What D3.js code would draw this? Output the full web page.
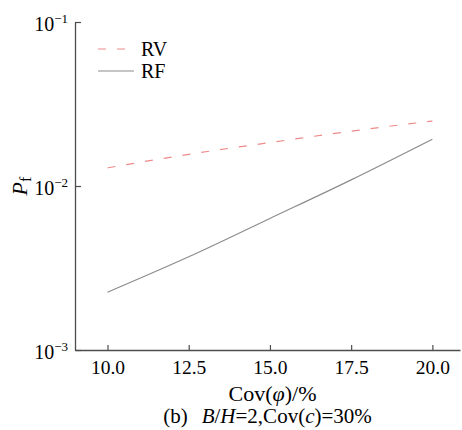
<!DOCTYPE html>
<html>
	<script src="https://d3js.org/d3.v7.min.js"></script>
	<head>
		<style>
			body
			{
				margin:0;
				background-color:white;
			}
			text
			{
				font-family:"Liberation Serif", "DejaVu Serif", serif;
				fill:black;
			}
		</style>
	</head>
	<body>
		<svg id="chart"></svg>
	</body>
	<script>
		// values
		let covPhi = [10.0, 12.5, 15.0, 17.5, 20.0];
		let pfRV = [0.0129, 0.0156, 0.0184, 0.0216, 0.0249];
		let pfRF = [0.00225, 0.0037, 0.00634, 0.0109, 0.0193];
		let xTicks = [10.0, 12.5, 15.0, 17.5, 20.0];
		let yTicks = [1e-3, 1e-2, 1e-1];
		let seriesNames = ["RV", "RF"];

		let width = 462;
		let height = 430;
		let margin = {
			top: 22,
			bottom: 80,
			left: 75,
			right: 2
		};
		let axisColor = "#4d4d4d";
		let rvColor = "#ee8a8a";
		let rfColor = "#8c8c8c";

		let svg = d3.select("#chart")
					.attr("width", width)
					.attr("height", height);

		// scales
		let xScale = d3.scaleLinear()
					.domain([9.0, 20.85])
					.range([margin.left, width - margin.right]);
		let yScale = d3.scaleLog()
					.domain([1e-3, 1e-1])
					.range([height - margin.bottom, margin.top]);

		// x axis, ticks pointing inward
		let xAxis = d3.axisBottom(xScale)
					.tickValues(xTicks)
					.tickSizeInner(-5)
					.tickSizeOuter(0)
					.tickFormat(d3.format(".1f"));
		let gx = svg.append("g")
					.attr("transform", `translate(0,${height - margin.bottom})`)
					.call(xAxis);
		gx.select(".domain").attr("stroke", axisColor).attr("stroke-width", 1.3);
		gx.selectAll(".tick line").attr("stroke", axisColor).attr("stroke-width", 1.2);
		gx.selectAll(".tick text")
			.attr("y", 23.5)
			.attr("dy", 0)
			.style("font-size", "19.5px")
			.style("font-family", "Liberation Serif");

		// y axis, log ticks with powers of ten
		let yAxis = d3.axisLeft(yScale)
					.tickValues(yTicks)
					.tickSizeInner(-6)
					.tickSizeOuter(0)
					.tickFormat("");
		let gy = svg.append("g")
					.attr("transform", `translate(${margin.left},0)`)
					.call(yAxis);
		gy.select(".domain").attr("stroke", axisColor).attr("stroke-width", 1.3);
		gy.selectAll(".tick line").attr("stroke", axisColor).attr("stroke-width", 1.2);

		let yLabels = gy.selectAll(".tick")
					.append("text")
					.attr("x", -7)
					.attr("y", 8)
					.attr("text-anchor", "end")
					.style("font-size", "20px")
					.style("font-family", "Liberation Serif");
		yLabels.append("tspan").text("10");
		yLabels.append("tspan")
			.attr("dy", -8)
			.style("font-size", "13px")
			.text((d) => "\u2212" + Math.round(-Math.log10(d)));

		// lines
		let line = d3.line()
					.x((d) => xScale(d.x))
					.y((d) => yScale(d.y))
					.curve(d3.curveMonotoneX);

		let rvData = covPhi.map((c, i) => ({x: c, y: pfRV[i]}));
		let rfData = covPhi.map((c, i) => ({x: c, y: pfRF[i]}));

		svg.append("path")
			.datum(rvData)
			.attr("d", line)
			.attr("fill", "none")
			.attr("stroke", rvColor)
			.attr("stroke-width", 1.2)
			.attr("stroke-dasharray", "8,11");

		svg.append("path")
			.datum(rfData)
			.attr("d", line)
			.attr("fill", "none")
			.attr("stroke", rfColor)
			.attr("stroke-width", 1.2);

		// legend
		let legend = svg.append("g").attr("transform", "translate(98,0)");
		let legendY = [49, 71];
		legend.selectAll("line")
			.data(seriesNames)
			.enter().append("line")
			.attr("x1", 0)
			.attr("x2", (d, i) => i == 0 ? 28 : 36)
			.attr("y1", (d, i) => legendY[i])
			.attr("y2", (d, i) => legendY[i])
			.attr("stroke", (d, i) => i == 0 ? rvColor : rfColor)
			.attr("stroke-width", 1.2)
			.attr("stroke-dasharray", (d, i) => i == 0 ? "8,11" : null);
		legend.selectAll("text")
			.data(seriesNames)
			.enter().append("text")
			.attr("x", 43)
			.attr("y", (d, i) => legendY[i] + 7)
			.style("font-size", "20px")
			.text((d) => d);

		// axis titles
		let xTitle = svg.append("text")
					.attr("x", 272.5)
					.attr("y", 401)
					.attr("text-anchor", "middle")
					.style("font-size", "22px");
		xTitle.append("tspan").text("Cov(");
		xTitle.append("tspan").style("font-style", "italic").text("\u03c6");
		xTitle.append("tspan").text(")/%");

		let caption = svg.append("text")
					.attr("x", 267.5)
					.attr("y", 423)
					.attr("text-anchor", "middle")
					.style("font-size", "21px");
		caption.append("tspan").text("(b)");
		caption.append("tspan").attr("dx", 14).style("font-style", "italic").text("B");
		caption.append("tspan").text("/");
		caption.append("tspan").style("font-style", "italic").text("H");
		caption.append("tspan").text("=2,Cov(");
		caption.append("tspan").style("font-style", "italic").text("c");
		caption.append("tspan").text(")=30%");

		let yTitle = svg.append("text")
					.attr("transform", "translate(27,186) rotate(-90)")
					.attr("text-anchor", "middle")
					.style("font-size", "22px");
		yTitle.append("tspan").style("font-style", "italic").text("P");
		yTitle.append("tspan")
			.attr("dy", 4)
			.style("font-size", "16px")
			.text("f");
	</script>
</html>
